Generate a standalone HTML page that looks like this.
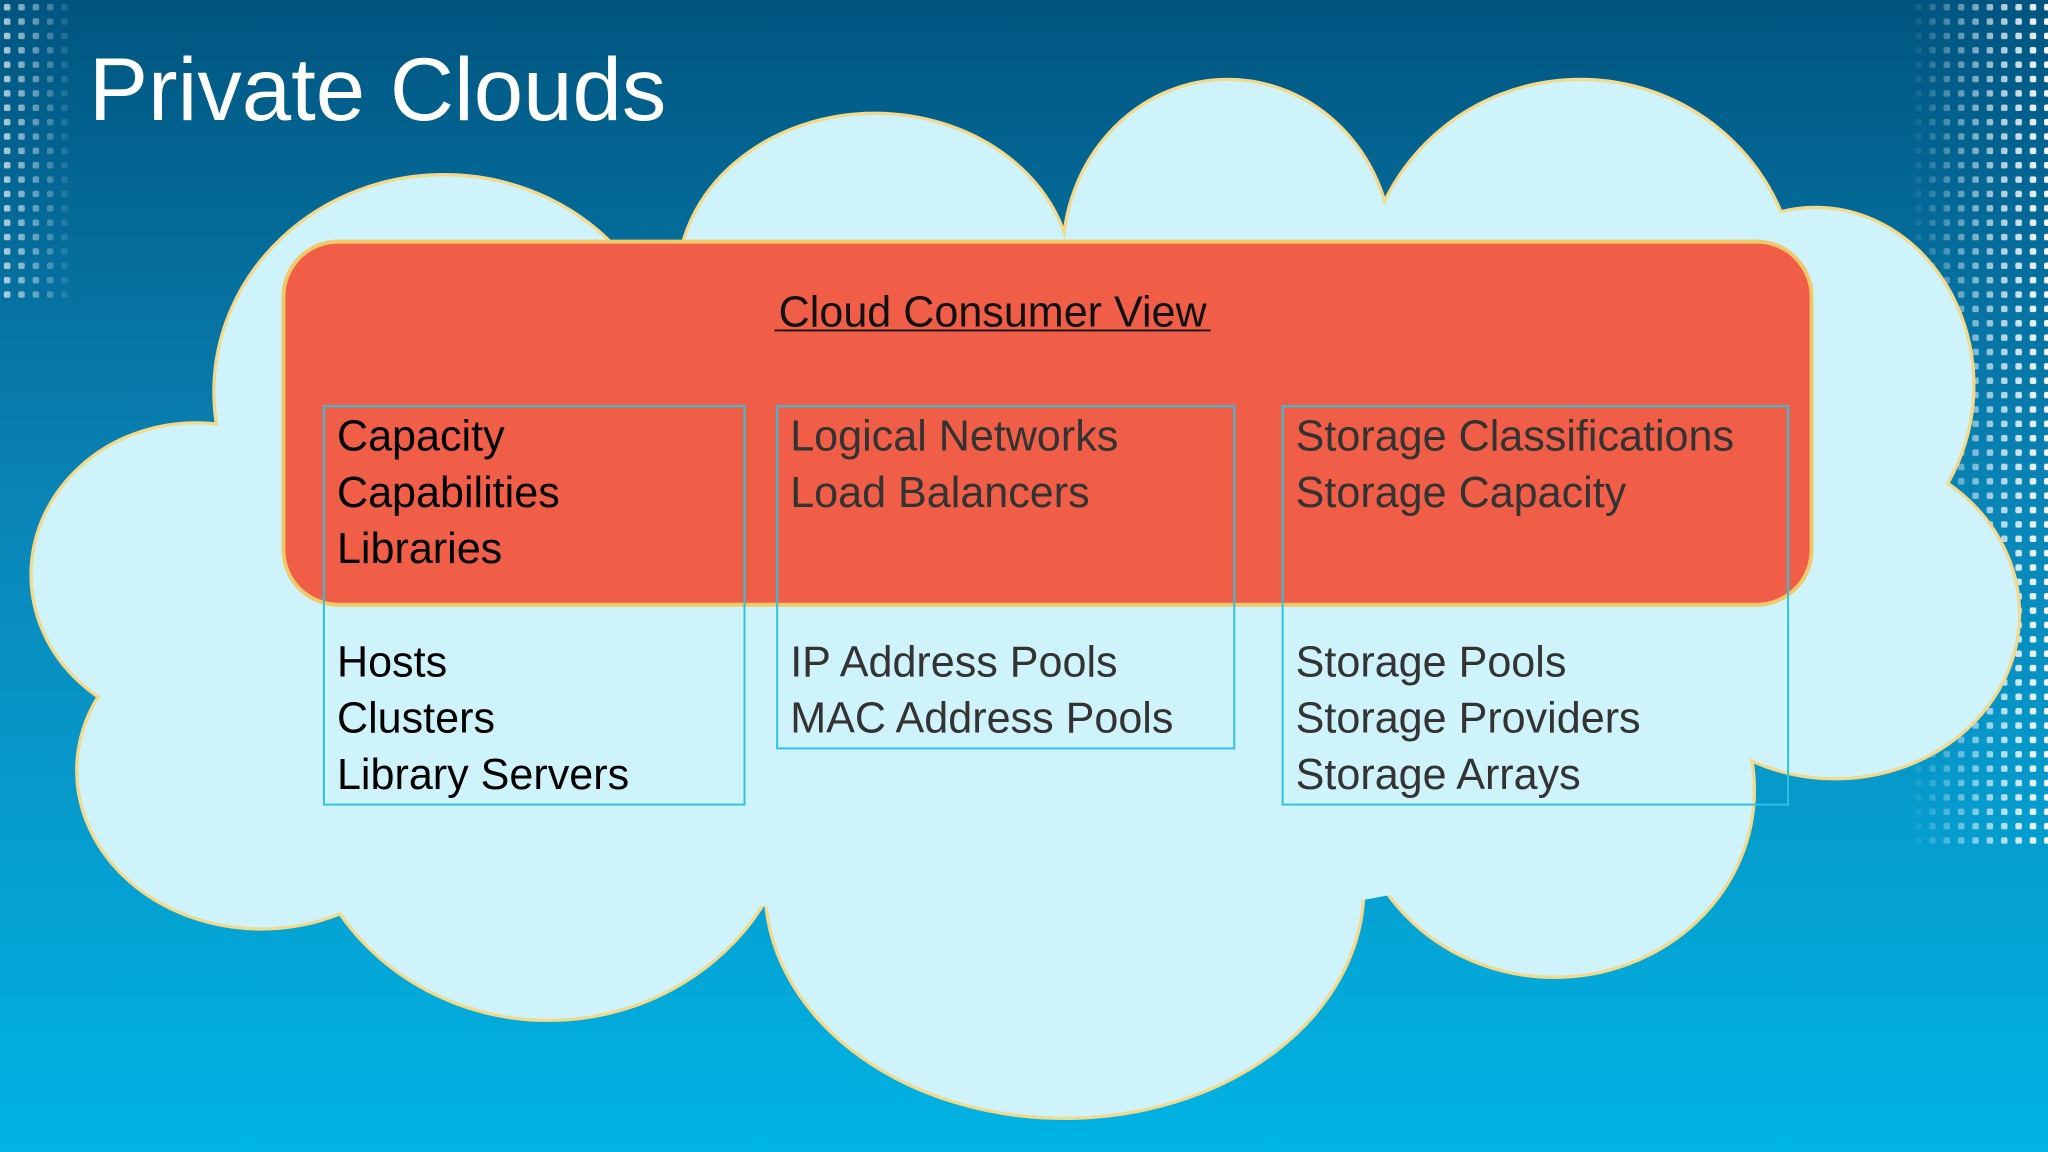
<!DOCTYPE html>
<html><head><meta charset="utf-8"><style>
html,body{margin:0;padding:0;width:2048px;height:1152px;overflow:hidden}
svg{display:block}
text{font-family:"Liberation Sans",sans-serif}
</style></head><body>
<svg width="2048" height="1152" viewBox="0 0 1568 882" preserveAspectRatio="none" xmlns="http://www.w3.org/2000/svg">
<defs>
<linearGradient id="bg" x1="0" y1="0" x2="0" y2="1">
<stop offset="0" stop-color="#005580"/>
<stop offset="0.45" stop-color="#0a86b8"/>
<stop offset="1" stop-color="#00b4e4"/>
</linearGradient>
<pattern id="dots" width="11" height="11" patternUnits="userSpaceOnUse">
<rect x="3" y="3" width="5" height="5" rx="1.5" fill="#ffffff"/>
</pattern>
<linearGradient id="fadeR" x1="0" y1="0" x2="1" y2="0">
<stop offset="0" stop-color="#fff" stop-opacity="0"/>
<stop offset="1" stop-color="#fff" stop-opacity="1"/>
</linearGradient>
<mask id="mR"><rect x="1460" y="0" width="108" height="650" fill="url(#fadeR)"/></mask>
<linearGradient id="fadeL" x1="1" y1="0" x2="0" y2="0">
<stop offset="0" stop-color="#fff" stop-opacity="0"/>
<stop offset="1" stop-color="#fff" stop-opacity="0.7"/>
</linearGradient>
<mask id="mL"><rect x="0" y="0" width="60" height="230" fill="url(#fadeL)"/></mask>
</defs>
<rect width="1568" height="882" fill="url(#bg)"/>
<rect x="1460" y="0" width="108" height="650" fill="url(#dots)" mask="url(#mR)"/>
<rect x="0" y="0" width="60" height="230" fill="url(#dots)" mask="url(#mL)"/>
<text x="68" y="92" font-size="68" fill="#fff">Private Clouds</text>
<g id="cl">
<ellipse cx="150" cy="440" rx="125" ry="115"/>
<ellipse cx="340" cy="300" rx="175" ry="165"/>
<ellipse cx="670" cy="215" rx="150" ry="127"/>
<ellipse cx="940" cy="195" rx="125" ry="133"/>
<ellipse cx="1210" cy="225" rx="165" ry="163"/>
<ellipse cx="1390" cy="295" rx="120" ry="135"/>
<ellipse cx="1405" cy="470" rx="140" ry="125"/>
<ellipse cx="1190" cy="605" rx="152" ry="142"/>
<ellipse cx="815" cy="680" rx="228" ry="175"/>
<ellipse cx="420" cy="600" rx="190" ry="180"/>
<ellipse cx="200" cy="590" rx="140" ry="120"/>
</g>
<use href="#cl" fill="#f2d98c" stroke="#f2d98c" stroke-width="5"/>
<use href="#cl" fill="#cff3fb"/>
<ellipse cx="800" cy="450" rx="620" ry="260" fill="#cff3fb"/>
<rect x="217" y="185" width="1170" height="278" rx="42" fill="#f05e47" stroke="#f2c96a" stroke-width="3"/>
<text x="760" y="250" font-size="33" fill="#111" text-anchor="middle">Cloud Consumer View</text>
<line x1="593" y1="253" x2="927" y2="253" stroke="#111" stroke-width="1.5"/>
<g fill="none" stroke="#2cc3e2" stroke-width="1.5">
<rect x="248" y="311" width="322" height="305"/>
<rect x="595" y="311" width="350" height="262"/>
<rect x="982" y="311" width="387" height="305"/>
</g>
<g font-size="33" fill="#000">
<text x="258" y="345">Capacity</text>
<text x="258" y="388">Capabilities</text>
<text x="258" y="431">Libraries</text>
<text x="258" y="518">Hosts</text>
<text x="258" y="561">Clusters</text>
<text x="258" y="604">Library Servers</text>
</g>
<g font-size="33" fill="#333">
<text x="605" y="345">Logical Networks</text>
<text x="605" y="388">Load Balancers</text>
<text x="605" y="518">IP Address Pools</text>
<text x="605" y="561">MAC Address Pools</text>
<text x="992" y="345">Storage Classifications</text>
<text x="992" y="388">Storage Capacity</text>
<text x="992" y="518">Storage Pools</text>
<text x="992" y="561">Storage Providers</text>
<text x="992" y="604">Storage Arrays</text>
</g>
</svg>
</body></html>
